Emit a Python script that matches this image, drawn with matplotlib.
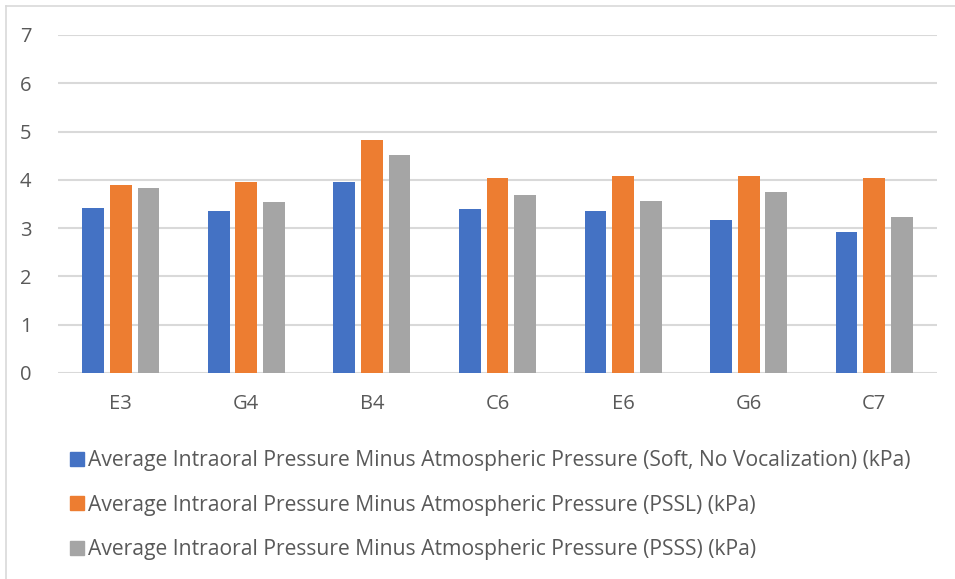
import matplotlib.pyplot as plt
from matplotlib.lines import Line2D
import numpy as np

notes = ["E3", "G4", "B4", "C6", "E6", "G6", "C7"]
soft_no_voc = [3.41, 3.36, 3.95, 3.39, 3.36, 3.16, 2.92]
pssl = [3.89, 3.95, 4.83, 4.04, 4.08, 4.09, 4.04]
psss = [3.83, 3.54, 4.52, 3.69, 3.57, 3.74, 3.23]

labels = [
    "Average Intraoral Pressure Minus Atmospheric Pressure (Soft, No Vocalization) (kPa)",
    "Average Intraoral Pressure Minus Atmospheric Pressure (PSSL) (kPa)",
    "Average Intraoral Pressure Minus Atmospheric Pressure (PSSS) (kPa)",
]
colors = ["#4472C4", "#ED7D31", "#A5A5A5"]
text_col = "#595959"

plt.rcParams['font.family'] = ['Open Sans', 'DejaVu Sans']

W, H = 955, 579
fig = plt.figure(figsize=(W / 100, H / 100), dpi=100)

# plot area in pixel coords
x0, x1 = 58, 937
y_top, y_bot = 35, 373
ax = fig.add_axes([x0 / W, 1 - y_bot / H, (x1 - x0) / W, (y_bot - y_top) / H])

x = np.arange(len(notes))
width = 0.173
pitch = 0.22
for i, (vals, c) in enumerate(zip([soft_no_voc, pssl, psss], colors)):
    ax.bar(x + (i - 1) * pitch, vals, width, color=c, label=labels[i], zorder=3)

ax.set_xlim(-0.5, len(notes) - 0.5)
ax.set_ylim(0, 7)
ax.set_yticks(range(8))
ax.set_xticks(x)
ax.set_xticklabels(notes)
ax.grid(axis='y', color='#D9D9D9', linewidth=1.5, zorder=0)
for s in ['top', 'right', 'left', 'bottom']:
    ax.spines[s].set_visible(False)
ax.tick_params(axis='both', length=0, labelsize=14.5, colors=text_col)
ax.tick_params(axis='y', pad=19)
ax.tick_params(axis='x', pad=15)

# legend entries stacked below the plot
handles = [Line2D([0], [0], marker='s', linestyle='none', markersize=10.5,
                  markerfacecolor=c, markeredgecolor=c) for c in colors]
leg = fig.legend(handles, labels, loc='upper left',
                 bbox_to_anchor=(62 / W, 1 - 442 / H), frameon=False,
                 fontsize=15.2, labelcolor=text_col, handlelength=0.6,
                 handletextpad=0.25, labelspacing=1.1, borderaxespad=0)

# chart border (left and top edges)
fig.add_artist(Line2D([6 / W, 6 / W], [0, 1 - 6 / H], transform=fig.transFigure,
                      color='#D9D9D9', linewidth=1.2))
fig.add_artist(Line2D([6 / W, 1], [1 - 6 / H, 1 - 6 / H], transform=fig.transFigure,
                      color='#D9D9D9', linewidth=1.2))

fig.savefig("out.png", dpi=100, facecolor='white')
